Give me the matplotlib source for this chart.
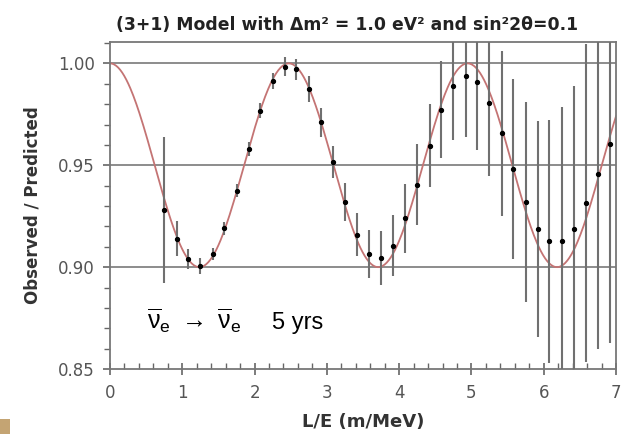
import numpy as np
import matplotlib
matplotlib.use("Agg")
from matplotlib import pyplot as plt
from matplotlib.patches import Rectangle
from matplotlib.ticker import MultipleLocator, FormatStrFormatter

# model parameters (3+1 sterile oscillation)
dm2 = 1.0          # eV^2
sin2_2theta = 0.1

# simulated 5 yr data, binned in L/E
le_bins = [0.75, 0.92, 1.08, 1.25, 1.42, 1.58, 1.75, 1.92, 2.08, 2.25,
           2.42, 2.58, 2.75, 2.92, 3.08, 3.25, 3.42, 3.58, 3.75, 3.92,
           4.08, 4.25, 4.42, 4.58, 4.75, 4.92, 5.08, 5.25, 5.42, 5.58,
           5.75, 5.92, 6.08, 6.25, 6.42, 6.58, 6.75, 6.92]
ratio = [0.928, 0.914, 0.904, 0.9006, 0.9064, 0.919, 0.9376, 0.958, 0.9768, 0.9912,
         0.9984, 0.9971, 0.9873, 0.9712, 0.9516, 0.9319, 0.916, 0.9064, 0.9044, 0.9106,
         0.9239, 0.9405, 0.9596, 0.9773, 0.9889, 0.9938, 0.9907, 0.9808, 0.9658, 0.9482,
         0.9319, 0.9189, 0.9127, 0.9127, 0.9189, 0.9313, 0.9459, 0.9606]
ratio_err = [0.036, 0.0085, 0.005, 0.0041, 0.0031, 0.0032, 0.003, 0.0033, 0.0037, 0.004,
             0.0046, 0.0052, 0.0063, 0.0071, 0.008, 0.0092, 0.0107, 0.0116, 0.0133, 0.0151,
             0.0171, 0.020, 0.0204, 0.0238, 0.0264, 0.0297, 0.033, 0.036, 0.0405, 0.044,
             0.049, 0.053, 0.0597, 0.066, 0.070, 0.078, 0.086, 0.098]

# survival probability curve
le = np.linspace(0, 7, 500)
p_surv = 1 - sin2_2theta * np.sin(1.27 * dm2 * le) ** 2

plt.rcParams['mathtext.fontset'] = 'custom'
plt.rcParams['mathtext.rm'] = 'Liberation Sans'
plt.rcParams['mathtext.it'] = 'Liberation Sans'

fig = plt.figure(figsize=(6.31, 4.34), dpi=100)
ax = fig.add_axes([110/631, 1 - 369/434, 506/631, 327/434])

for yg in [0.90, 0.95, 1.00]:
    ax.axhline(yg, color='#8c8c8c', lw=1.4, zorder=1)

ax.plot(le, p_surv, color='#c47474', lw=1.3, zorder=2)
ax.errorbar(le_bins, ratio, yerr=ratio_err, fmt='o', color='black', ms=2.8,
            ecolor='#707070', elinewidth=1.5, capsize=0, zorder=3)

ax.set_xlim(0, 7)
ax.set_ylim(0.85, 1.0105)
ax.xaxis.set_major_locator(MultipleLocator(1))
ax.xaxis.set_minor_locator(MultipleLocator(0.2))
ax.yaxis.set_major_locator(MultipleLocator(0.05))
ax.yaxis.set_minor_locator(MultipleLocator(0.01))
ax.yaxis.set_major_formatter(FormatStrFormatter('%.2f'))

ax.tick_params(axis='x', which='major', direction='inout', length=8, width=1.2,
               color='#666666', labelsize=12, labelcolor='#555555', pad=7)
ax.tick_params(axis='x', which='minor', direction='in', length=4, width=1.0, color='#666666')
ax.tick_params(axis='y', which='major', direction='out', length=5, width=1.2,
               color='#666666', labelsize=12, labelcolor='#555555', pad=6)
ax.tick_params(axis='y', which='minor', direction='out', length=4, width=1.0, color='#666666')
for s in ax.spines.values():
    s.set_color('#777777')
    s.set_linewidth(1.3)

ax.set_xlabel('L/E (m/MeV)', fontsize=13, fontweight='bold', color='#333333', labelpad=8)
ax.set_ylabel('Observed / Predicted', fontsize=12, fontweight='bold', color='#333333', labelpad=12)
ax.set_title('(3+1) Model with \u0394m\u00b2 = 1.0 eV\u00b2 and sin\u00b22\u03b8=0.1',
             fontsize=12.4, fontweight='bold', color='#222222', x=0.468, pad=9)

ax.text(0.51, 0.8697, r'$\overline{\mathrm{\nu}}_\mathrm{e}\ \rightarrow\ \overline{\mathrm{\nu}}_\mathrm{e}$',
        fontsize=18, va='baseline', ha='left')
ax.text(2.24, 0.8697, '5 yrs', fontsize=17, family='Liberation Sans', va='baseline', ha='left')

fig.patches.append(Rectangle((0, 0), 10/631, 15/434, transform=fig.transFigure,
                             facecolor='#c4a473', edgecolor='none'))

fig.savefig('out.png', dpi=100)
